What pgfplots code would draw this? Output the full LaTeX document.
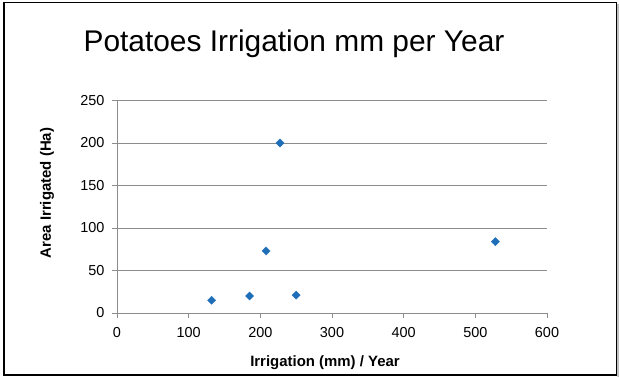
\documentclass[border=0pt]{standalone}
\usepackage{fontspec}
\setmainfont{Liberation Sans}
\usepackage{pgfplots}
\pgfplotsset{compat=1.18}
\definecolor{axisgray}{HTML}{8C8C8C}
\definecolor{gridgray}{HTML}{8C8C8C}
\definecolor{markblue}{HTML}{1F6EB8}
\begin{document}
\begin{tikzpicture}[x=1bp,y=1bp]
\useasboundingbox (0,0) rectangle (619,377);
\fill[white] (0,0) rectangle (619,377);
\draw[gray!50, line width=1.5bp] (618.2,0.5) -- (618.2,373);
\draw[black, line width=1.2bp] (4,2) rectangle (616.5,374.5);
\begin{axis}[
  at={(117bp,64bp)}, anchor=south west,
  scale only axis, width=430bp, height=212.5bp,
  xmin=0, xmax=600, ymin=0, ymax=250,
  xtick={0,100,...,600}, ytick={0,50,...,250},
  axis x line*=bottom, axis y line*=left,
  axis line style={draw=axisgray, line width=0.8bp},
  ymajorgrids, grid style={draw=gridgray, line width=0.8bp},
  tick align=outside, major tick length=5bp,
  tick style={draw=axisgray, line width=0.8bp},
  ticklabel style={font=\fontsize{14.5}{17}\selectfont},
  yticklabel style={xshift=-4bp},
  xticklabel style={yshift=-6bp},
  /pgf/number format/assume math mode=true,
  clip=false,
]
\addplot[only marks, mark=square*, mark size=2.9bp, mark options={fill=markblue, draw=markblue, line width=0.3bp, rotate=45}]
coordinates {(132,15) (185,20) (208,73) (227.5,200) (250,21) (528,84)};
\end{axis}
\node[anchor=base, font=\fontsize{30}{36}\selectfont] at (294,326) {Potatoes Irrigation mm per Year};
\node[rotate=90, font=\bfseries\fontsize{15}{18}\selectfont] at (47,184) {Area Irrigated (Ha)};
\node[anchor=base, font=\bfseries\fontsize{15}{18}\selectfont] at (325,11) {Irrigation (mm) / Year};
\end{tikzpicture}
\end{document}
